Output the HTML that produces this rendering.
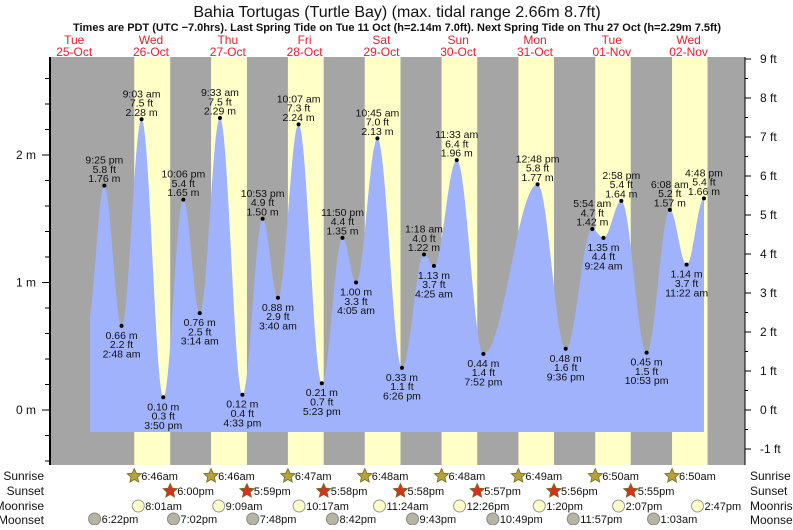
<!DOCTYPE html>
<html><head><meta charset="utf-8"><style>
body{margin:0;background:#fff}
svg text{font-family:"Liberation Sans",sans-serif}
</style></head><body>
<svg id="c" width="793" height="525" viewBox="0 0 793 525" xmlns="http://www.w3.org/2000/svg">
<text x="397" y="17" font-size="16" text-anchor="middle" fill="#111">Bahia Tortugas (Turtle Bay) (max. tidal range 2.66m 8.7ft)</text>
<text x="397" y="31" font-size="11" font-weight="bold" text-anchor="middle" fill="#111">Times are PDT (UTC −7.0hrs). Last Spring Tide on Tue 11 Oct (h=2.14m 7.0ft). Next Spring Tide on Thu 27 Oct (h=2.29m 7.5ft)</text>
<g id="bg"></g><g id="area"></g><g id="axes"></g><g id="labels"></g><g id="bottom"></g>
</svg>
<script>
const dayNames=["Tue","Wed","Thu","Fri","Sat","Sun","Mon","Tue","Wed"];
const dayDates=["25-Oct","26-Oct","27-Oct","28-Oct","29-Oct","30-Oct","31-Oct","01-Nov","02-Nov"];
// tide extremes: hours since Oct 25 00:00, height in m, ft, time label
const tideHours=[21.42,26.8,33.05,39.83,46.1,51.23,57.55,64.55,70.88,75.67,82.12,89.38,95.83,100.08,106.75,114.43,121.3,124.42,131.55,139.87,156.8,165.6,173.9,177.4,182.97,190.88,198.13,203.37,208.8];
const tideMeters=[1.76,0.66,2.28,0.10,1.65,0.76,2.29,0.12,1.50,0.88,2.24,0.21,1.35,1.00,2.13,0.33,1.22,1.13,1.96,0.44,1.77,0.48,1.42,1.35,1.64,0.45,1.57,1.14,1.66];
const tideFeet=["5.8","2.2","7.5","0.3","5.4","2.5","7.5","0.4","4.9","2.9","7.3","0.7","4.4","3.3","7.0","1.1","4.0","3.7","6.4","1.4","5.8","1.6","4.7","4.4","5.4","1.5","5.2","3.7","5.4"];
const tideTimes=["9:25 pm","2:48 am","9:03 am","3:50 pm","10:06 pm","3:14 am","9:33 am","4:33 pm","10:53 pm","3:40 am","10:07 am","5:23 pm","11:50 pm","4:05 am","10:45 am","6:26 pm","1:18 am","4:25 am","11:33 am","7:52 pm","12:48 pm","9:36 pm","5:54 am","9:24 am","2:58 pm","10:53 pm","6:08 am","11:22 am","4:48 pm"];
const sunriseHours=[30.77,54.77,78.78,102.8,126.8,150.82,174.83,198.83];
const sunriseLabels=["6:46am","6:46am","6:47am","6:48am","6:48am","6:49am","6:50am","6:50am"];
const sunsetHours=[42.0,65.98,89.97,113.97,137.95,161.93,185.92,209.92];
const sunsetLabels=["6:00pm","5:59pm","5:58pm","5:58pm","5:57pm","5:56pm","5:55pm",""];
const moonriseHours=[32.02,57.15,82.28,107.4,132.43,157.33,182.12,206.78];
const moonriseLabels=["8:01am","9:09am","10:17am","11:24am","12:26pm","1:20pm","2:07pm","2:47pm"];
const moonsetHours=[18.37,43.03,67.8,92.7,117.72,142.82,167.95,193.05];
const moonsetLabels=["6:22pm","7:02pm","7:48pm","8:42pm","9:43pm","10:49pm","11:57pm","1:03am"];
const mTicks=[0,1,2];
const ftTicks=[-1,0,1,2,3,4,5,6,7,8,9];

const NS="http://www.w3.org/2000/svg";
const X0=50,X1=745,Y0=57,Y1=465;
const xS=t=>35.8+t*3.2;
const yM=m=>410-m*127.5;
const yF=f=>410-f*39;
function mk(tag,attrs,parent,txt){const e=document.createElementNS(NS,tag);for(const k in attrs)e.setAttribute(k,attrs[k]);if(txt!==undefined)e.textContent=txt;document.getElementById(parent).appendChild(e);return e;}

// background
let e=mk("rect",{x:X0,y:Y0,width:X1-X0,height:Y1-Y0,fill:"#a5a5a5"},"bg");


for(let i=0;i<sunriseHours.length;i++){
  const a=xS(sunriseHours[i]),b=Math.min(xS(sunsetHours[i]),X1);
  e=mk("rect",{x:a,y:Y0,width:b-a,height:Y1-Y0,fill:"#ffffc8"},"bg");
  
  
}
for(let i=0;i<dayNames.length;i++){
  const cx=xS(i*24+12);
  e=mk("text",{x:cx,y:44,"font-size":12,"text-anchor":"middle",fill:"#e8202a"},"bg",dayNames[i]);
  
  
  e=mk("text",{x:cx,y:56,"font-size":12,"text-anchor":"middle",fill:"#e8202a"},"bg",dayDates[i]);
  
  
}
// tide area
const yB=432;
let pts=[];
const tStart=(90-35.8)/3.2;
{const h=tideHours[0],l=tideMeters[1],H=tideMeters[0],half=tideHours[1]-tideHours[0];
 for(let t=tStart;t<h;t+=0.25){const p=(h-t)/half;pts.push([xS(t),yM(l+(H-l)*(1+Math.cos(Math.PI*p))/2)]);}}
for(let i=0;i<tideHours.length-1;i++){
  const t0=tideHours[i],t1=tideHours[i+1],m0=tideMeters[i],m1=tideMeters[i+1];
  for(let t=t0;t<t1;t+=0.25){const p=(t-t0)/(t1-t0);pts.push([xS(t),yM(m0+(m1-m0)*(1-Math.cos(Math.PI*p))/2)]);}
}
const tl=tideHours.length-1;pts.push([xS(tideHours[tl]),yM(tideMeters[tl])]);
let d="M"+xS(tStart)+","+yB+" "+pts.map(p=>"L"+p[0].toFixed(1)+","+p[1].toFixed(1)).join(" ")+" L"+xS(tideHours[tl])+","+yB+"Z";
e=mk("path",{d:d,fill:"#9fb2fb"},"area");



// axes
e=mk("line",{x1:X0,y1:Y0,x2:X0,y2:Y1,stroke:"#000","stroke-width":2},"axes");


e=mk("line",{x1:X1,y1:Y0,x2:X1,y2:Y1,stroke:"#000","stroke-width":1},"axes");


for(let v=-0.4;v<=2.81;v+=0.2){const y=yM(v);if(y<Y0||y>Y1)continue;
  e=mk("line",{x1:45,y1:y,x2:X0,y2:y,stroke:"#000"},"axes");
  
  }
mTicks.forEach(v=>{const y=yM(v);
  e=mk("line",{x1:42,y1:y,x2:X0,y2:y,stroke:"#000"},"axes");
  
  
  e=mk("text",{x:36,y:y+4,"font-size":12,"text-anchor":"end",fill:"#111"},"axes",v+" m");
  
  });
ftTicks.forEach(v=>{const y=yF(v);
  e=mk("line",{x1:X1,y1:y,x2:X1+6,y2:y,stroke:"#000"},"axes");
  
  
  if(v<9){e=mk("line",{x1:X1,y1:yF(v+0.5),x2:X1+3,y2:yF(v+0.5),stroke:"#000"},"axes");
  
  }
  e=mk("text",{x:760,y:y+4,"font-size":12,fill:"#111"},"axes",v+" ft");
  
  });

// extreme labels
for(let i=0;i<tideHours.length;i++){
  const x=xS(tideHours[i]),y=yM(tideMeters[i]);
  const prev=i>0?tideMeters[i-1]:0, nxt=i<tl?tideMeters[i+1]:0;
  const high=(tideMeters[i]>prev&&tideMeters[i]>nxt)||(i==0)||(i==tl)||(i==16);
  e=mk("circle",{cx:x,cy:y,r:2,fill:"#000"},"labels");
  
  
  const lines=high?[tideTimes[i],tideFeet[i]+" ft",tideMeters[i].toFixed(2)+" m"]:[tideMeters[i].toFixed(2)+" m",tideFeet[i]+" ft",tideTimes[i]];
  const base=high?y-22:y+13;
  lines.forEach((s,j)=>{
    e=mk("text",{x:x,y:base+j*9.3,"font-size":10.5,"text-anchor":"middle",fill:"#111"},"labels",s);
    
    });
}

// bottom rows
const rows=[["Sunrise",480],["Sunset",495],["Moonrise",510],["Moonset",524]];
rows.forEach(r=>{
  e=mk("text",{x:44,y:r[1],"font-size":12,"text-anchor":"end",fill:"#111"},"bottom",r[0]);
  
  
  e=mk("text",{x:750,y:r[1],"font-size":12,fill:"#111"},"bottom",r[0]);
  
  });
function star(cx,cy,fill){let p=[];for(let k=0;k<10;k++){const r=k%2?3.5:7.5,a=-Math.PI/2+k*Math.PI/5;p.push((cx+r*Math.cos(a)).toFixed(1)+","+(cy+r*Math.sin(a)).toFixed(1));}
  return mk("polygon",{points:p.join(" "),fill:fill,stroke:"#776a20","stroke-width":0.8},"bottom");}
function evRow(hours,labels,cy,kind){
  hours.forEach((h,i)=>{if(!labels[i])return;const x=xS(h);
    if(kind==="sr"){e=star(x,cy,"#b5a23a");}
    else if(kind==="ss"){e=star(x,cy,"#d8321e");}
    else if(kind==="mr"){e=mk("circle",{cx:x,cy:cy,r:6,fill:"#ffffc8",stroke:"#999"},"bottom");}
    else {e=mk("circle",{cx:x,cy:cy,r:6,fill:"#b8b4a2",stroke:"#888"},"bottom");}
    
    e=mk("text",{x:x+7,y:cy+4,"font-size":11,fill:"#111"},"bottom",labels[i]);
    
    });}
evRow(sunriseHours,sunriseLabels,476,"sr");
evRow(sunsetHours,sunsetLabels,491,"ss");
evRow(moonriseHours,moonriseLabels,506,"mr");
evRow(moonsetHours,moonsetLabels,519,"ms");
</script>
</body></html>
